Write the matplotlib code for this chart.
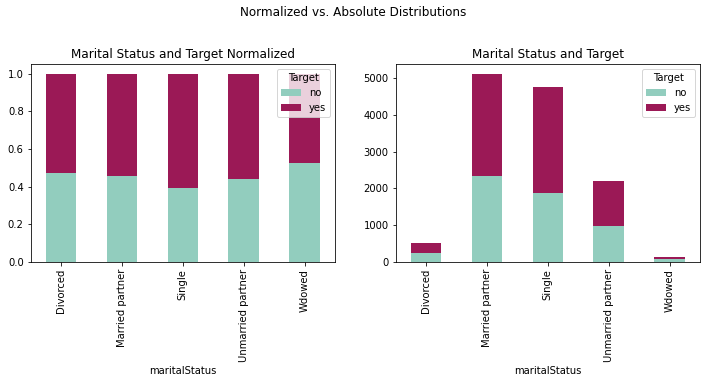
import numpy as np
import matplotlib
matplotlib.use("Agg")
import matplotlib.pyplot as plt

# counts
statuses = ["Divorced", "Married partner", "Single", "Unmarried partner", "Wdowed"]
no_counts = [244, 2324, 1863, 967, 67]
yes_counts = [271, 2794, 2902, 1221, 61]

no_color = "#92cdbe"
yes_color = "#9b1956"

no_arr = np.array(no_counts, dtype=float)
yes_arr = np.array(yes_counts, dtype=float)
total = no_arr + yes_arr
no_norm = no_arr / total
yes_norm = yes_arr / total

fig = plt.figure(figsize=(706 / 72, 383 / 72), dpi=72)
ax1 = fig.add_axes([0.0435, 0.3167, 0.431, 0.5154])
ax2 = fig.add_axes([0.5605, 0.3167, 0.431, 0.5154])

x = np.arange(len(statuses))


def stacked(ax, lo, hi, title):
    ax.bar(x, lo, width=0.5, color=no_color, label="no")
    ax.bar(x, hi, width=0.5, bottom=lo, color=yes_color, label="yes")
    ax.set_xlim(-0.5, len(statuses) - 0.5)
    ax.set_xticks(x)
    ax.set_xticklabels(statuses, rotation=90)
    ax.set_xlabel("maritalStatus")
    ax.set_title(title)
    ax.legend(title="Target", loc="upper right")


stacked(ax1, no_norm, yes_norm, "Marital Status and Target Normalized")
stacked(ax2, no_arr, yes_arr, "Marital Status and Target")

fig.suptitle("Normalized vs. Absolute Distributions", y=0.985)

fig.savefig("out.png", dpi=72)
